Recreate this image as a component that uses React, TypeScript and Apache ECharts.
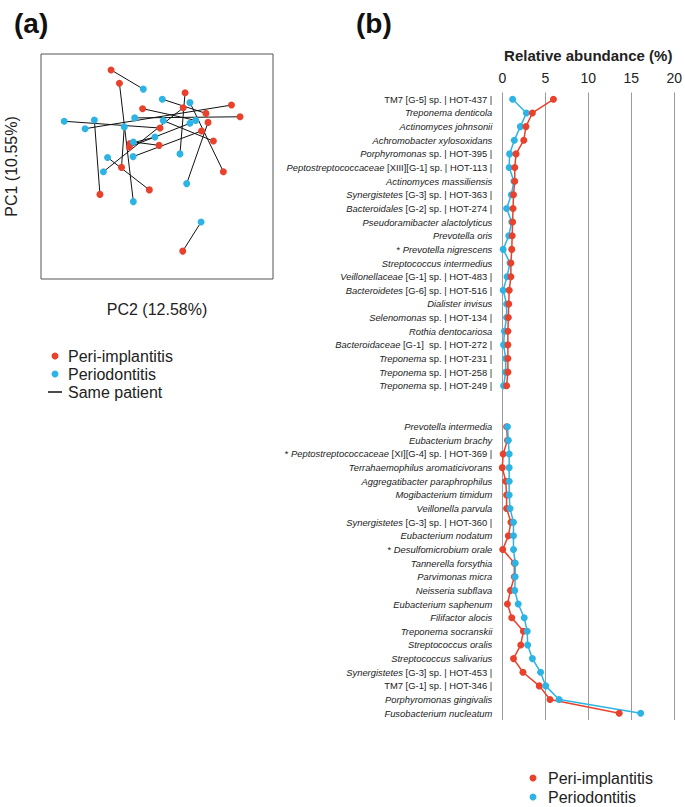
import React, { useEffect, useRef } from "react";
import * as echarts from "echarts";

// ---------- Panel (a): PCoA scatter ----------
// [PC2, PC1] scores (arbitrary units, box = 0..100)
const periPoints: [number, number][] = [
  [30.2, 92.9], [33.8, 87.0], [62.1, 82.8], [61.3, 76.1], [82.1, 77.3],
  [71.1, 73.6], [85.8, 72.1], [43.8, 75.7], [72.0, 69.6], [51.3, 67.1],
  [69.2, 65.8], [74.3, 61.3], [38.4, 60.2], [38.1, 58.7], [50.9, 59.4],
  [34.7, 49.6], [78.6, 47.7], [46.7, 39.6], [25.4, 37.6], [61.1, 12.4],
];
const perioPoints: [number, number][] = [
  [44.1, 84.4], [39.8, 34.4], [59.9, 55.6], [26.9, 47.7], [19.0, 66.8],
  [52.3, 79.9], [40.4, 71.6], [66.7, 70.5], [62.8, 42.4], [10.0, 70.1],
  [39.7, 54.4], [52.7, 70.4], [49.1, 63.1], [64.2, 69.2], [39.8, 60.9],
  [35.9, 67.6], [64.2, 78.4], [28.7, 54.0], [23.0, 70.7], [69.0, 25.3],
];
// i-th peri point is paired (same patient) with i-th perio point

// ---------- Panel (b): relative abundance ----------
const topTaxa = [
  "TM7 [G-5] sp. | HOT-437 |",
  "Treponema denticola",
  "Actinomyces johnsonii",
  "Achromobacter xylosoxidans",
  "Porphyromonas sp. | HOT-395 |",
  "Peptostreptococcaceae [XIII][G-1] sp. | HOT-113 |",
  "Actinomyces massiliensis",
  "Synergistetes [G-3] sp. | HOT-363 |",
  "Bacteroidales [G-2] sp. | HOT-274 |",
  "Pseudoramibacter alactolyticus",
  "Prevotella oris",
  "* Prevotella nigrescens",
  "Streptococcus intermedius",
  "Veillonellaceae [G-1] sp. | HOT-483 |",
  "Bacteroidetes [G-6] sp. | HOT-516 |",
  "Dialister invisus",
  "Selenomonas sp. | HOT-134 |",
  "Rothia dentocariosa",
  "Bacteroidaceae [G-1]  sp. | HOT-272 |",
  "Treponema sp. | HOT-231 |",
  "Treponema sp. | HOT-258 |",
  "Treponema sp. | HOT-249 |",
];
const topPeri = [5.95, 3.5, 2.75, 2.5, 1.6, 1.45, 1.45, 1.3, 1.25, 1.2, 1.15, 1.1, 1.0, 1.0, 0.8, 0.75, 0.7, 0.65, 0.65, 0.65, 0.65, 0.5];
const topPerio = [1.2, 2.8, 2.1, 1.4, 0.85, 0.8, 1.35, 1.05, 0.5, 1.1, 0.75, 0.1, 0.9, 0.55, 0.1, 0.5, 0.5, 0.25, 0.15, 0.4, 0.4, 0.15];

const bottomTaxa = [
  "Prevotella intermedia",
  "Eubacterium brachy",
  "* Peptostreptococcaceae [XI][G-4] sp. | HOT-369 |",
  "Terrahaemophilus aromaticivorans",
  "Aggregatibacter paraphrophilus",
  "Mogibacterium timidum",
  "Veillonella parvula",
  "Synergistetes [G-3] sp. | HOT-360 |",
  "Eubacterium nodatum",
  "* Desulfomicrobium orale",
  "Tannerella forsythia",
  "Parvimonas micra",
  "Neisseria subflava",
  "Eubacterium saphenum",
  "Filifactor alocis",
  "Treponema socranskii",
  "Streptococcus oralis",
  "Streptococcus salivarius",
  "Synergistetes [G-3] sp. | HOT-453 |",
  "TM7 [G-1] sp. | HOT-346 |",
  "Porphyromonas gingivalis",
  "Fusobacterium nucleatum",
];
const bottomPeri = [0.5, 0.6, 0.1, 0.0, 0.4, 0.5, 0.5, 1.0, 0.7, 0.05, 1.4, 1.4, 0.95, 0.6, 1.1, 2.45, 2.15, 1.3, 2.4, 4.3, 5.55, 13.6];
const bottomPerio = [0.6, 0.7, 0.8, 0.8, 0.8, 0.8, 0.9, 1.3, 1.3, 1.3, 1.5, 1.5, 1.45, 1.85, 2.55, 2.9, 2.95, 3.5, 4.45, 5.05, 6.6, 16.1];

const xTicks = [0, 5, 10, 15, 20];

const PERI = "Peri-implantitis";
const PERIO = "Periodontitis";
const RED = "#E8412C";
const BLUE = "#2DB4E5";
const FONT = "'Liberation Sans', Arial, Helvetica, sans-serif";

const gapRows = [" ", "  "];
const allCats = [...topTaxa, ...gapRows, ...bottomTaxa];
const bottomOffset = topTaxa.length + gapRows.length;

function formatTaxon(label: string): string {
  if (!label.trim()) return "";
  let prefix = "";
  let s = label;
  if (s.startsWith("* ")) {
    prefix = "{r|*\u00a0}";
    s = s.slice(2);
  }
  if (s.startsWith("TM7")) return prefix + "{r|" + s + "}";
  let idx = s.indexOf(" [");
  const idx2 = s.indexOf(" sp.");
  if (idx < 0 || (idx2 >= 0 && idx2 < idx)) idx = idx2;
  if (idx >= 0) {
    const rest = s.slice(idx).replace(/^ /, "\u00a0");
    return prefix + "{i|" + s.slice(0, idx) + "}{r|" + rest + "}";
  }
  return prefix + "{i|" + s + "}";
}

export default function App() {
  const ref = useRef<HTMLDivElement>(null);
  useEffect(() => {
    document.body.style.margin = "0";
    if (!ref.current) return;
    const chart = echarts.init(ref.current, undefined, { renderer: "svg" });

    const pairLines = periPoints.map((p, i) => ({ coords: [p, perioPoints[i]] }));
    const labelStyle = { fontSize: 9.4, fontFamily: FONT, color: "#222" };

    chart.setOption({
      animation: false,
      backgroundColor: "#ffffff",
      grid: [
        { left: 41, top: 54, width: 232, height: 225, show: true, borderColor: "#555", borderWidth: 1, backgroundColor: "transparent" },
        { left: 502.3, top: 92.5, width: 172.7, height: 627.5 },
      ],
      xAxis: [
        {
          gridIndex: 0, type: "value", min: 0, max: 100,
          axisLine: { show: false }, axisTick: { show: false }, axisLabel: { show: false }, splitLine: { show: false },
          name: "PC2 (12.58%)", nameLocation: "middle", nameGap: 22,
          nameTextStyle: { fontSize: 16, fontFamily: FONT, color: "#222" },
        },
        {
          gridIndex: 1, type: "value", min: 0, max: 20, interval: 5, position: "top",
          axisLine: { show: false }, axisTick: { show: false },
          axisLabel: { fontSize: 14, fontFamily: FONT, color: "#222", margin: 8, formatter: (v: number) => (xTicks.includes(v) ? String(v) : "") },
          splitLine: { show: true, lineStyle: { color: "#9a9a9a", width: 1 } },
          name: "Relative abundance (%)", nameLocation: "middle", nameGap: 30,
          nameTextStyle: { fontSize: 15, fontWeight: "bold", fontFamily: FONT, color: "#222" },
        },
      ],
      yAxis: [
        {
          gridIndex: 0, type: "value", min: 0, max: 100,
          axisLine: { show: false }, axisTick: { show: false }, axisLabel: { show: false }, splitLine: { show: false },
          name: "PC1 (10.55%)", nameLocation: "middle", nameGap: 22,
          nameTextStyle: { fontSize: 16, fontFamily: FONT, color: "#222" },
        },
        {
          gridIndex: 1, type: "category", inverse: true, data: allCats,
          axisLine: { show: false }, axisTick: { show: false }, splitLine: { show: false },
          axisLabel: {
            margin: 10, interval: 0, ...labelStyle,
            formatter: (v: string) => formatTaxon(v),
            rich: {
              i: { ...labelStyle, fontStyle: "italic" },
              r: { ...labelStyle, fontStyle: "normal" },
            },
          },
        },
      ],
      series: [
        {
          name: "Same patient", type: "lines", coordinateSystem: "cartesian2d", xAxisIndex: 0, yAxisIndex: 0,
          data: pairLines, lineStyle: { color: "#111", width: 1, opacity: 1 }, symbol: "none", silent: true,
        },
        {
          name: PERI, type: "scatter", xAxisIndex: 0, yAxisIndex: 0, data: periPoints,
          symbolSize: 7, itemStyle: { color: RED, opacity: 1 },
        },
        {
          name: PERIO, type: "scatter", xAxisIndex: 0, yAxisIndex: 0, data: perioPoints,
          symbolSize: 7, itemStyle: { color: BLUE, opacity: 1 },
        },
        // top group: red drawn over blue
        {
          name: PERIO, type: "line", xAxisIndex: 1, yAxisIndex: 1,
          data: topPerio.map((v, i) => [v, i]),
          symbol: "circle", symbolSize: 7, showSymbol: true,
          lineStyle: { color: BLUE, width: 1.5 }, itemStyle: { color: BLUE },
        },
        {
          name: PERI, type: "line", xAxisIndex: 1, yAxisIndex: 1,
          data: topPeri.map((v, i) => [v, i]),
          symbol: "circle", symbolSize: 7, showSymbol: true,
          lineStyle: { color: RED, width: 1.5 }, itemStyle: { color: RED },
        },
        // bottom group: blue drawn over red
        {
          name: PERI, type: "line", xAxisIndex: 1, yAxisIndex: 1,
          data: bottomPeri.map((v, i) => [v, i + bottomOffset]),
          symbol: "circle", symbolSize: 7, showSymbol: true,
          lineStyle: { color: RED, width: 1.5 }, itemStyle: { color: RED },
        },
        {
          name: PERIO, type: "line", xAxisIndex: 1, yAxisIndex: 1,
          data: bottomPerio.map((v, i) => [v, i + bottomOffset]),
          symbol: "circle", symbolSize: 7, showSymbol: true,
          lineStyle: { color: BLUE, width: 1.5 }, itemStyle: { color: BLUE },
        },
      ],
      graphic: [
        { type: "text", left: 14, top: 9, style: { text: "(a)", fontSize: 28, fontWeight: "bold", fontFamily: FONT, fill: "#111" } },
        { type: "text", left: 356, top: 9, style: { text: "(b)", fontSize: 28, fontWeight: "bold", fontFamily: FONT, fill: "#111" } },
        // legend (a)
        { type: "circle", shape: { cx: 55, cy: 356, r: 3.5 }, style: { fill: RED } },
        { type: "text", x: 68, y: 356, style: { text: PERI, fontSize: 16, fontFamily: FONT, fill: "#222", verticalAlign: "middle" } },
        { type: "circle", shape: { cx: 55, cy: 374, r: 3.5 }, style: { fill: BLUE } },
        { type: "text", x: 68, y: 374, style: { text: PERIO, fontSize: 16, fontFamily: FONT, fill: "#222", verticalAlign: "middle" } },
        { type: "line", shape: { x1: 48, y1: 392, x2: 62, y2: 392 }, style: { stroke: "#111", lineWidth: 1.5 } },
        { type: "text", x: 68, y: 392, style: { text: "Same patient", fontSize: 16, fontFamily: FONT, fill: "#222", verticalAlign: "middle" } },
        // legend (b)
        { type: "circle", shape: { cx: 533, cy: 778, r: 3.5 }, style: { fill: RED } },
        { type: "text", x: 548, y: 778, style: { text: PERI, fontSize: 16, fontFamily: FONT, fill: "#222", verticalAlign: "middle" } },
        { type: "circle", shape: { cx: 533, cy: 797, r: 3.5 }, style: { fill: BLUE } },
        { type: "text", x: 548, y: 797, style: { text: PERIO, fontSize: 16, fontFamily: FONT, fill: "#222", verticalAlign: "middle" } },
      ],
    });
    return () => chart.dispose();
  }, []);
  return <div ref={ref} style={{ width: 685, height: 807 }} />;
}
